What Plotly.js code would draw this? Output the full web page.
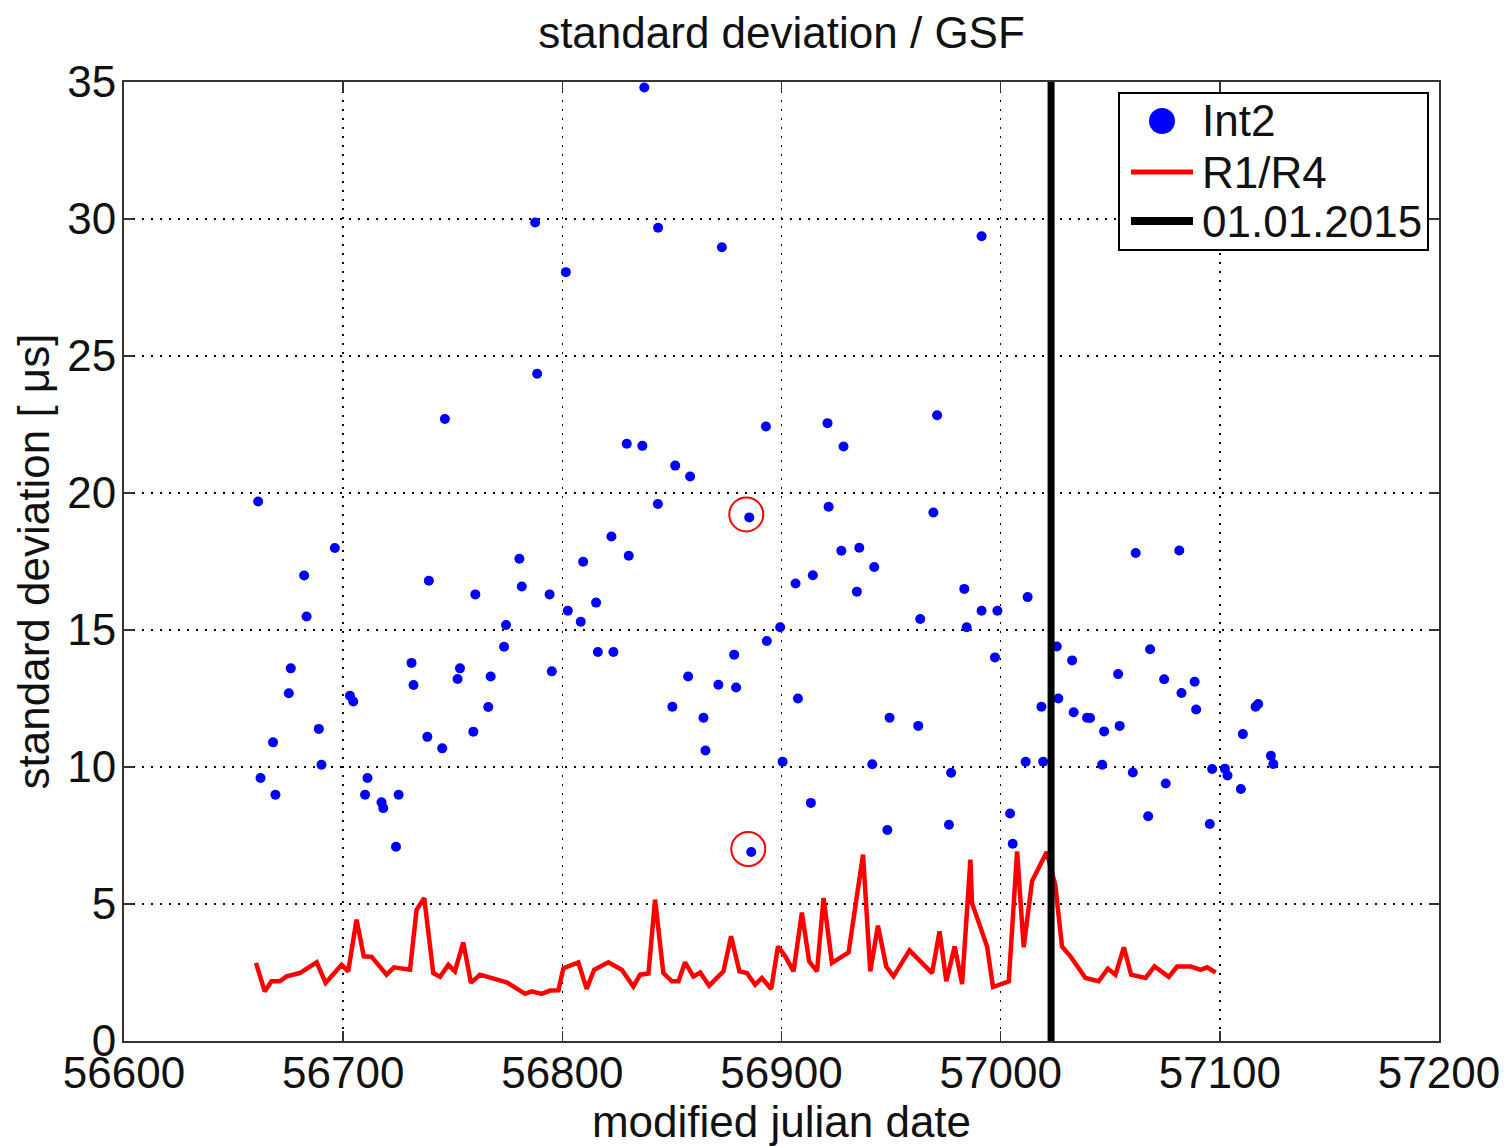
<!DOCTYPE html>
<html>
<head>
<meta charset="utf-8">
<script src="https://cdn.plot.ly/plotly-3.0.1.min.js"></script>
<style>html,body{margin:0;padding:0;background:#fff;}#chart{width:1509px;height:1146px;}</style>
</head>
<body>
<div id="chart"></div>
<script>
// ---- data ----
const int2Mjd = [56661.2,56662.3,56668.0,56669.1,56675.2,56676.1,56682.2,56683.3,56688.9,56690.1,56696.2,56703.1,56704.6,56710.0,56711.1,56717.5,56718.3,56724.1,56725.3,56731.2,56732.1,56738.4,56739.1,56745.2,56746.4,56752.2,56753.3,56759.4,56760.3,56766.2,56767.3,56773.4,56774.3,56780.4,56781.5,56787.6,56788.5,56794.2,56795.2,56801.6,56802.5,56808.4,56809.5,56815.4,56816.2,56822.4,56823.3,56829.4,56830.3,56836.5,56837.4,56843.6,56843.7,56850.2,56851.5,56857.4,56858.3,56864.4,56865.3,56871.2,56872.8,56878.4,56879.3,56885.3,56886.2,56892.9,56893.3,56899.4,56900.5,56906.4,56907.5,56913.4,56914.3,56921.0,56921.5,56927.3,56928.3,56934.4,56935.5,56941.4,56942.3,56948.3,56949.3,56962.4,56963.3,56969.3,56971.0,56976.4,56977.4,56983.4,56984.5,56991.3,56991.3,56997.4,56998.5,57004.3,57005.5,57011.4,57012.3,57018.6,57019.4,57025.6,57026.3,57032.6,57033.3,57039.4,57040.8,57046.3,57047.2,57053.6,57054.3,57060.3,57061.6,57067.3,57068.2,57074.6,57075.3,57081.5,57082.5,57088.5,57089.2,57095.4,57096.5,57102.3,57103.5,57109.6,57110.5,57116.3,57117.5,57123.3,57124.4];
const int2Std = [19.69,9.6,10.9,8.99,12.69,13.6,16.99,15.49,11.39,10.08,17.99,12.6,12.39,8.99,9.6,8.71,8.5,7.09,8.99,13.8,12.99,11.1,16.8,10.68,22.7,13.21,13.6,11.29,16.3,12.19,13.3,14.39,15.18,17.6,16.59,29.87,24.35,16.3,13.49,28.06,15.7,15.3,17.49,16.0,14.2,18.41,14.2,21.8,17.71,21.72,34.8,19.6,29.68,12.2,21.0,13.3,20.6,11.8,10.6,13.0,28.97,14.1,12.9,19.11,6.9,22.43,14.6,15.1,10.19,16.7,12.5,8.69,17.0,22.55,19.5,17.89,21.7,16.4,18.0,10.1,17.3,7.7,11.8,11.5,15.4,19.29,22.84,7.89,9.79,16.5,15.1,29.37,15.7,14.0,15.7,8.3,7.2,10.19,16.2,12.2,10.19,14.4,12.5,13.89,12.0,11.8,11.79,10.08,11.3,13.39,11.5,9.8,17.81,8.2,14.3,13.2,9.4,17.9,12.7,13.11,12.1,7.92,9.93,9.94,9.69,9.2,11.2,12.2,12.3,10.41,10.11];

const r1r4Mjd = [56660.2,56664.2,56667.3,56671.1,56674.2,56680.2,56687.9,56692.0,56699.3,56702.3,56706.1,56709.4,56713.0,56719.8,56723.2,56730.5,56733.5,56737.0,56741.1,56744.2,56748.0,56751.0,56754.8,56758.3,56762.4,56774.6,56783.0,56786.0,56790.6,56794.4,56798.2,56800.5,56807.3,56811.1,56814.5,56821.0,56827.1,56832.4,56835.5,56839.3,56842.3,56846.1,56850.0,56853.0,56856.0,56859.8,56862.9,56867.0,56873.5,56877.0,56880.8,56884.2,56888.0,56891.0,56895.3,56898.4,56901.7,56905.5,56909.3,56912.6,56916.2,56919.2,56923.0,56930.6,56937.2,56940.5,56944.0,56947.8,56951.1,56958.4,56968.7,56972.1,56975.2,56979.0,56982.4,56986.2,56986.9,56993.8,56996.5,57003.7,57007.5,57010.5,57014.3,57021.0,57024.9,57028.0,57031.8,57038.7,57044.7,57048.9,57052.4,57056.2,57059.5,57066.1,57070.2,57076.7,57080.5,57086.6,57091.2,57094.2,57098.1];
const r1r4Std = [2.85,1.81,2.18,2.18,2.36,2.48,2.87,2.12,2.78,2.54,4.43,3.09,3.07,2.42,2.69,2.6,4.79,5.22,2.48,2.34,2.78,2.54,3.6,2.12,2.42,2.14,1.72,1.81,1.72,1.84,1.85,2.66,2.87,1.9,2.6,2.87,2.6,1.99,2.42,2.46,5.16,2.48,2.18,2.18,2.87,2.36,2.5,2.02,2.54,3.82,2.54,2.48,2.05,2.3,1.9,3.45,3.09,2.54,4.69,2.91,2.54,5.22,2.85,3.23,6.8,2.54,4.21,2.72,2.36,3.31,2.48,4.0,2.18,3.45,2.08,6.62,5.04,3.45,1.97,2.18,6.92,3.42,5.83,6.9,5.7,3.45,3.09,2.3,2.18,2.64,2.42,3.42,2.42,2.3,2.72,2.34,2.72,2.72,2.6,2.69,2.5];

const markerMjd = [57023];          // 01.01.2015
const yRange = [0, 35];
const xRange = [56600, 57200];
const highlightIdx = [63, 64];      // circled Int2 points

const seriesNames = ['Int2', 'R1/R4', '01.01.2015'];
const titleText = 'standard deviation / GSF';
const xTitle = 'modified julian date';
const yTitle = 'standard deviation [ \u03bcs]';

// ---- styling / layout helpers ----
const FONT = 'Liberation Sans, Arial, sans-serif';
const TXT = '#111';
const PL = 124, PR = 1439, PT = 82, PB = 1041;        // plot area in pixels
const px = v => (v - PL) / (PR - PL);                   // pixel -> paper x
const py = v => (PB - v) / (PB - PT);                   // pixel -> paper y

const traces = [
  {x: int2Mjd, y: int2Std, type: 'scatter', mode: 'markers', name: seriesNames[0],
   marker: {color: '#0000ff', size: 10}},
  {x: r1r4Mjd, y: r1r4Std, type: 'scatter', mode: 'lines', name: seriesNames[1],
   line: {color: '#ff0000', width: 4.5}},
  {x: [markerMjd[0], markerMjd[0]], y: yRange, type: 'scatter', mode: 'lines', name: seriesNames[2],
   line: {color: '#000000', width: 7}}
];

const shapes = highlightIdx.map(i => ({
  type: 'circle', xref: 'x', yref: 'y', xsizemode: 'pixel', ysizemode: 'pixel',
  xanchor: int2Mjd[i], yanchor: int2Std[i],
  x0: -20, x1: 14, y0: -14, y1: 20,
  line: {color: '#ff0000', width: 2}, fillcolor: 'rgba(0,0,0,0)', layer: 'above'
}));

// hand-built legend (box, symbols, texts) in paper coordinates
const LEG = {x0: 1119, x1: 1428, y0: 93, y1: 250, rows: [121, 172, 221], sx0: 1131, sx1: 1193, tx: 1200};
shapes.push({type: 'rect', xref: 'paper', yref: 'paper', x0: px(LEG.x0), x1: px(LEG.x1), y0: py(LEG.y1), y1: py(LEG.y0),
  line: {color: '#000', width: 2}, fillcolor: '#fff', layer: 'above'});
shapes.push({type: 'circle', xref: 'paper', yref: 'paper', x0: px(1149), x1: px(1175), y0: py(LEG.rows[0] + 13), y1: py(LEG.rows[0] - 13),
  line: {color: '#0000ff', width: 0}, fillcolor: '#0000ff', layer: 'above'});
shapes.push({type: 'line', xref: 'paper', yref: 'paper', x0: px(LEG.sx0), x1: px(LEG.sx1), y0: py(LEG.rows[1]), y1: py(LEG.rows[1]),
  line: {color: '#ff0000', width: 5}, layer: 'above'});
shapes.push({type: 'line', xref: 'paper', yref: 'paper', x0: px(LEG.sx0), x1: px(LEG.sx1), y0: py(LEG.rows[2]), y1: py(LEG.rows[2]),
  line: {color: '#000000', width: 8}, layer: 'above'});
const annotations = seriesNames.map((n, k) => ({
  text: n, xref: 'paper', yref: 'paper', x: px(LEG.tx), y: py(LEG.rows[k]),
  xanchor: 'left', yanchor: 'middle', showarrow: false,
  font: {family: FONT, size: 44, color: TXT}
}));

const axisCommon = {
  showline: true, mirror: 'ticks', linecolor: '#333', linewidth: 2,
  ticks: 'inside', ticklen: 10, tickwidth: 1.5, tickcolor: '#333',
  showgrid: true, gridcolor: '#000', gridwidth: 1.5, griddash: '2px,7px',
  zeroline: false, tickfont: {family: FONT, size: 44, color: TXT},
  automargin: false
};

const layout = {
  width: 1509, height: 1146,
  margin: {l: PL, r: 1509 - PR, t: PT, b: 1146 - PB, pad: 0},
  paper_bgcolor: '#fff', plot_bgcolor: '#fff',
  font: {family: FONT, color: TXT},
  title: {text: titleText, font: {family: FONT, size: 44, color: TXT},
          x: 781.5 / 1509, xref: 'container', xanchor: 'center', y: 1 - 33/1146, yref: 'container', yanchor: 'middle'},
  xaxis: Object.assign({}, axisCommon, {
    range: xRange, dtick: 100, tick0: 56600, tickformat: 'd', ticklabelstandoff: -8,
    title: {text: xTitle, font: {family: FONT, size: 44, color: TXT}, standoff: 0}
  }),
  yaxis: Object.assign({}, axisCommon, {
    range: yRange, dtick: 5, tick0: 0, ticklabelstandoff: -3,
    title: {text: yTitle, font: {family: FONT, size: 44, color: TXT}, standoff: 4}
  }),
  shapes: shapes,
  annotations: annotations,
  showlegend: false
};

Plotly.newPlot('chart', traces, layout, {staticPlot: true, displayModeBar: false});
</script>
</body>
</html>
